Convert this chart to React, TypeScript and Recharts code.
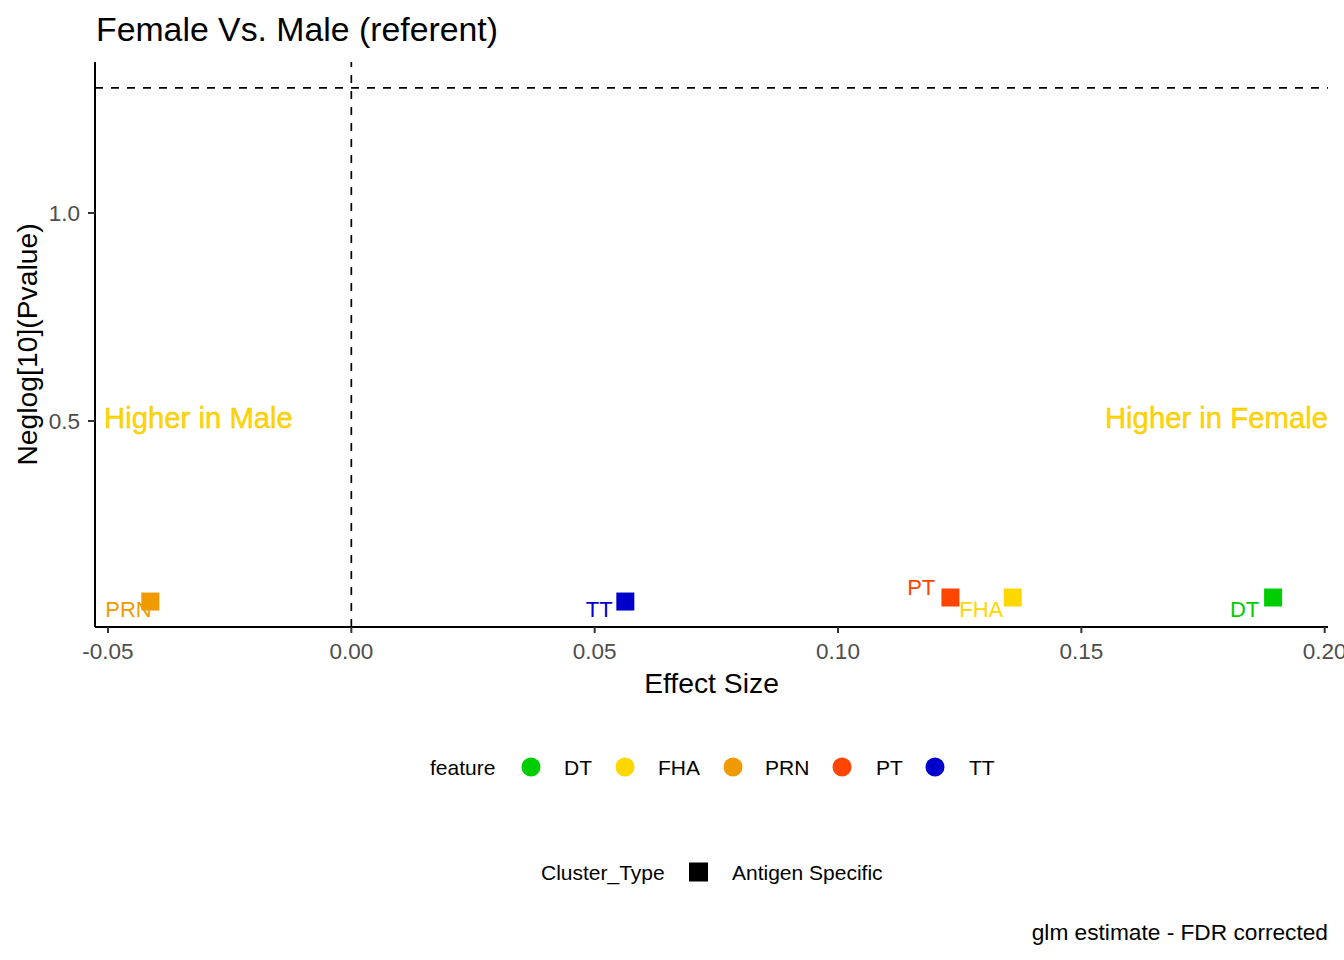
import React from 'react';
import { ScatterChart, Scatter, XAxis, YAxis, ReferenceLine } from 'recharts';

// ---- data ----
const features = ['DT', 'FHA', 'PRN', 'PT', 'TT'];
const effectSize = [0.1894, 0.1359, -0.0413, 0.1231, 0.0563];
const negLogP = [0.0757, 0.0757, 0.066, 0.0757, 0.066];
const featureColors = ['#00CD00', '#FFD700', '#EE9A00', '#FF4500', '#0000CD'];
const clusterTypes = ['Antigen Specific'];
const xTicks = [-0.05, 0, 0.05, 0.1, 0.15, 0.2];
const yTicks = [0.5, 1.0];
const xDomain = [-0.05267, 0.20068];
const yDomain = [0.0048, 1.363];
const significanceLine = 1.30103;
const effectZero = 0;

// ---- layout (label nudges in px, like ggrepel placement) ----
const labelNudge: Record<string, [number, number]> = {
  DT: [-28.5, 19.8],
  FHA: [-31.5, 19.8],
  PRN: [-21.8, 15.8],
  PT: [-29.2, -2.5],
  TT: [-26.2, 15.8],
};

const FONT = '"Liberation Sans", Arial, Helvetica, sans-serif';
const W = 1344;
const H = 960;

const data = features.map((f, i) => ({
  feature: f,
  x: effectSize[i],
  y: negLogP[i],
  color: featureColors[i],
}));

const SquareShape = (props: any) => {
  const { cx, cy, payload } = props;
  if (cx == null || cy == null) return null;
  const s = 18;
  return <rect x={cx - s / 2} y={cy - s / 2} width={s} height={s} fill={payload.color} />;
};

const LabelShape = (props: any) => {
  const { cx, cy, payload } = props;
  if (cx == null || cy == null) return null;
  const [dx, dy] = labelNudge[payload.feature] || [0, 0];
  return (
    <text
      x={cx + dx}
      y={cy + dy}
      textAnchor="middle"
      fill={payload.color}
      fontSize={22}
      fontFamily={FONT}
    >
      {payload.feature}
    </text>
  );
};

export default function App() {
  const legendY1 = 767;
  const legendY2 = 872;
  // feature legend positions
  const circleX = [531, 625, 733, 842, 935];
  const labelX = [564, 658, 765, 876, 969];
  return (
    <div style={{ position: 'absolute', left: 0, top: 0, width: W, height: H, fontFamily: FONT, background: '#fff' }}>
      <ScatterChart
        width={W}
        height={H}
        margin={{ top: 62, right: 16, bottom: 273, left: 0 }}
      >
        <XAxis
          type="number"
          dataKey="x"
          domain={xDomain}
          allowDataOverflow
          ticks={xTicks}
          interval={0}
          tickFormatter={(v: number) => v.toFixed(2)}
          height={60}
          tickSize={6}
          tickMargin={10}
          tick={{ fill: '#4D4D4D', fontSize: 22.5, fontFamily: FONT }}
          tickLine={{ stroke: '#333333', strokeWidth: 2 }}
          axisLine={{ stroke: '#000000', strokeWidth: 2 }}
        />
        <YAxis
          type="number"
          dataKey="y"
          domain={yDomain}
          allowDataOverflow
          ticks={yTicks}
          interval={0}
          tickFormatter={(v: number) => v.toFixed(1)}
          width={95}
          tickSize={7}
          tickMargin={8}
          tick={{ fill: '#4D4D4D', fontSize: 22.5, fontFamily: FONT }}
          tickLine={{ stroke: '#333333', strokeWidth: 2 }}
          axisLine={{ stroke: '#000000', strokeWidth: 2 }}
        />
        <ReferenceLine x={effectZero} stroke="#000" strokeWidth={1.7} strokeDasharray="8 8" />
        <ReferenceLine y={significanceLine} stroke="#000" strokeWidth={1.7} strokeDasharray="8 8" />
        <Scatter data={data} shape={SquareShape} isAnimationActive={false} />
        <Scatter data={data} shape={LabelShape} isAnimationActive={false} />
      </ScatterChart>
      <svg
        width={W}
        height={H}
        style={{ position: 'absolute', left: 0, top: 0, pointerEvents: 'none' }}
        fontFamily={FONT}
      >
        <text x={96} y={41} fontSize={33.8} fill="#000">Female Vs. Male (referent)</text>
        <text x={711.5} y={692.7} fontSize={28.3} fill="#000" textAnchor="middle">Effect Size</text>
        <text
          x={36.7}
          y={344.5}
          fontSize={28.3}
          fill="#000"
          textAnchor="middle"
          transform="rotate(-90 36.7 344.5)"
        >
          Neglog[10](Pvalue)
        </text>
        <text x={104} y={428} fontSize={29.3} fill="#FFD700" stroke="#F2C200" strokeWidth={0.4}>Higher in Male</text>
        <text x={1328} y={428} fontSize={29.3} fill="#FFD700" stroke="#F2C200" strokeWidth={0.4} textAnchor="end">Higher in Female</text>

        {/* feature legend */}
        <text x={430} y={legendY1 + 7.5} fontSize={21} fill="#000">feature</text>
        {features.map((f, i) => (
          <g key={f}>
            <circle cx={circleX[i]} cy={legendY1} r={9.5} fill={featureColors[i]} />
            <text x={labelX[i]} y={legendY1 + 7.5} fontSize={21} fill="#000">{f}</text>
          </g>
        ))}

        {/* cluster type legend */}
        <text x={541} y={legendY2 + 7.5} fontSize={21} fill="#000">Cluster_Type</text>
        {clusterTypes.map((c) => (
          <g key={c}>
            <rect x={689} y={legendY2 - 9.5} width={19} height={19} fill="#000" />
            <text x={732} y={legendY2 + 7.5} fontSize={21} fill="#000">{c}</text>
          </g>
        ))}

        <text x={1328} y={939.5} fontSize={22.7} fill="#000" textAnchor="end">glm estimate - FDR corrected</text>
      </svg>
    </div>
  );
}
